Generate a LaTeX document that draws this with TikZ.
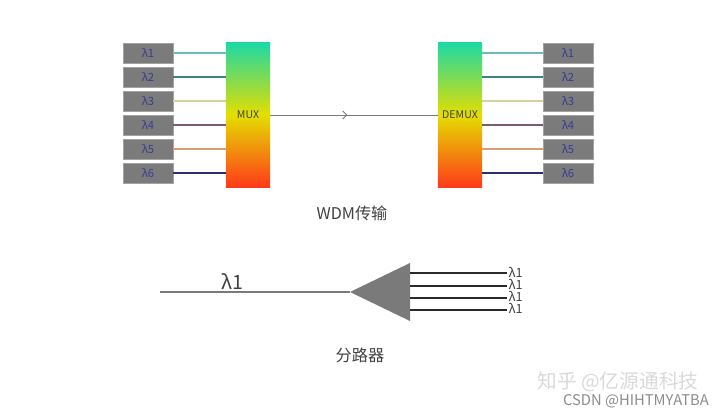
\documentclass[tikz,border=0pt]{standalone}
\usepackage{fontspec}
\usepackage{xcolor}
\usepackage{tikz}
\usetikzlibrary{arrows.meta,decorations.markings}
\newfontfamily\cjk{Noto Sans CJK SC}
\definecolor{grisBoite}{HTML}{7B7B7B}
\definecolor{bleuLambda}{HTML}{3A3A96}
\definecolor{vertHaut}{HTML}{1ED9A4}
\definecolor{jauneMilieu}{HTML}{E4DE00}
\definecolor{rougeBas}{HTML}{FF3A1A}
\definecolor{grisFil}{HTML}{7A7A7A}
\definecolor{noirFil}{HTML}{2A2A2A}
\definecolor{grisTexte}{HTML}{404040}
\definecolor{canalUn}{HTML}{6CBCBC}
\definecolor{canalDeux}{HTML}{3F7F86}
\definecolor{canalTrois}{HTML}{D6CFA0}
\definecolor{canalQuatre}{HTML}{7E5A6E}
\definecolor{canalCinq}{HTML}{D2A36E}
\definecolor{canalSix}{HTML}{2E2E6A}
\tikzset{
  canal/.style={
    rectangle, fill=grisBoite, draw=grisBoite!70, minimum width=1.25cm,
    minimum height=0.5cm, inner sep=0pt, text=bleuLambda,
    font=\cjk\fontsize{8}{9}\selectfont},
  multiplexeur/.style={
    rectangle, minimum width=1.1cm, minimum height=3.6cm, inner sep=0pt,
    top color=vertHaut, bottom color=rougeBas, middle color=jauneMilieu,
    text=grisTexte, font=\cjk\fontsize{7.5}{9}\selectfont},
  fil/.style={line width=0.8pt},
  fibre/.style={draw=grisFil, line width=0.9pt},
  filNoir/.style={draw=noirFil, line width=1.3pt},
  titre/.style={font=\cjk\fontsize{11.5}{14}\selectfont, text=grisTexte},
  lambdaGrand/.style={font=\cjk\fontsize{14}{16}\selectfont, text=grisTexte, inner sep=1pt},
  lambdaPetit/.style={font=\cjk\fontsize{9}{10}\selectfont, text=grisTexte, inner sep=1pt},
  filigrane/.style={font=\cjk\fontsize{14}{16}\selectfont, text=black!15},
  filigraneCsdn/.style={font=\cjk\fontsize{10.5}{12}\selectfont, text=black!45}
}
\begin{document}
\begin{tikzpicture}[x=0.025cm, y=-0.025cm]
  \useasboundingbox (0,0) rectangle (726,415);

  % --- Multiplexeur et demultiplexeur
  \node[multiplexeur] (mux)   at (248,115) {MUX};
  \node[multiplexeur] (demux) at (460,115) {DEMUX};

  % --- Longueurs d'onde en entree
  \node[canal] (g1) at (148, 53) {λ1};
  \node[canal] (g2) at (148, 77) {λ2};
  \node[canal] (g3) at (148,101) {λ3};
  \node[canal] (g4) at (148,125) {λ4};
  \node[canal] (g5) at (148,149) {λ5};
  \node[canal] (g6) at (148,173) {λ6};

  % --- Longueurs d'onde en sortie
  \node[canal] (d1) at (568, 53) {λ1};
  \node[canal] (d2) at (568, 77) {λ2};
  \node[canal] (d3) at (568,101) {λ3};
  \node[canal] (d4) at (568,125) {λ4};
  \node[canal] (d5) at (568,149) {λ5};
  \node[canal] (d6) at (568,173) {λ6};

  % --- Fils vers le MUX
  \draw[fil, draw=canalUn]     (g1.east) -- (g1.east -| mux.west);
  \draw[fil, draw=canalDeux]   (g2.east) -- (g2.east -| mux.west);
  \draw[fil, draw=canalTrois]  (g3.east) -- (g3.east -| mux.west);
  \draw[fil, draw=canalQuatre] (g4.east) -- (g4.east -| mux.west);
  \draw[fil, draw=canalCinq]   (g5.east) -- (g5.east -| mux.west);
  \draw[fil, draw=canalSix]    (g6.east) -- (g6.east -| mux.west);

  % --- Fils depuis le DEMUX
  \draw[fil, draw=canalUn]     (d1.west -| demux.east) -- (d1.west);
  \draw[fil, draw=canalDeux]   (d2.west -| demux.east) -- (d2.west);
  \draw[fil, draw=canalTrois]  (d3.west -| demux.east) -- (d3.west);
  \draw[fil, draw=canalQuatre] (d4.west -| demux.east) -- (d4.west);
  \draw[fil, draw=canalCinq]   (d5.west -| demux.east) -- (d5.west);
  \draw[fil, draw=canalSix]    (d6.west -| demux.east) -- (d6.west);

  % --- Fibre unique
  \draw[fibre, line width=0.6pt, postaction={decorate}, decoration={markings,
        mark=at position 0.46 with {\arrow{Straight Barb[length=1mm]}}}]
        (mux.east) -- (demux.west);

  \node[titre] (wdm) at (352,213) {WDM传输};

  % --- Coupleur
  \coordinate (entree)   at (160,292);
  \coordinate (pointe)   at (350,292);
  \coordinate (baseHaut) at (410,263);
  \coordinate (baseBas)  at (410,321);
  \fill[grisFil] (pointe) -- (baseHaut) -- (baseBas) -- cycle;
  \draw[fibre] (entree) -- node[lambdaGrand, above, pos=0.38] {λ1} (pointe);

  \coordinate (s1) at (410,273);
  \coordinate (s2) at (410,286);
  \coordinate (s3) at (410,298);
  \coordinate (s4) at (410,310);
  \node[lambdaPetit, anchor=west] (t1) at (507,272) {λ1};
  \node[lambdaPetit, anchor=west] (t2) at (507,284) {λ1};
  \node[lambdaPetit, anchor=west] (t3) at (507,296) {λ1};
  \node[lambdaPetit, anchor=west] (t4) at (507,308) {λ1};
  \draw[filNoir] (s1) -- (s1 -| t1.west);
  \draw[filNoir] (s2) -- (s2 -| t2.west);
  \draw[filNoir] (s3) -- (s3 -| t3.west);
  \draw[filNoir] (s4) -- (s4 -| t4.west);

  \node[titre] (coupleur) at (360,355) {分路器};

  % --- Filigranes
  \node[filigrane]     (zhihu) at (618,382) {知乎 @亿源通科技};
  \node[filigraneCsdn] (csdn)  at (636,401) {CSDN @HIHTMYATBA};

\end{tikzpicture}
\end{document}
